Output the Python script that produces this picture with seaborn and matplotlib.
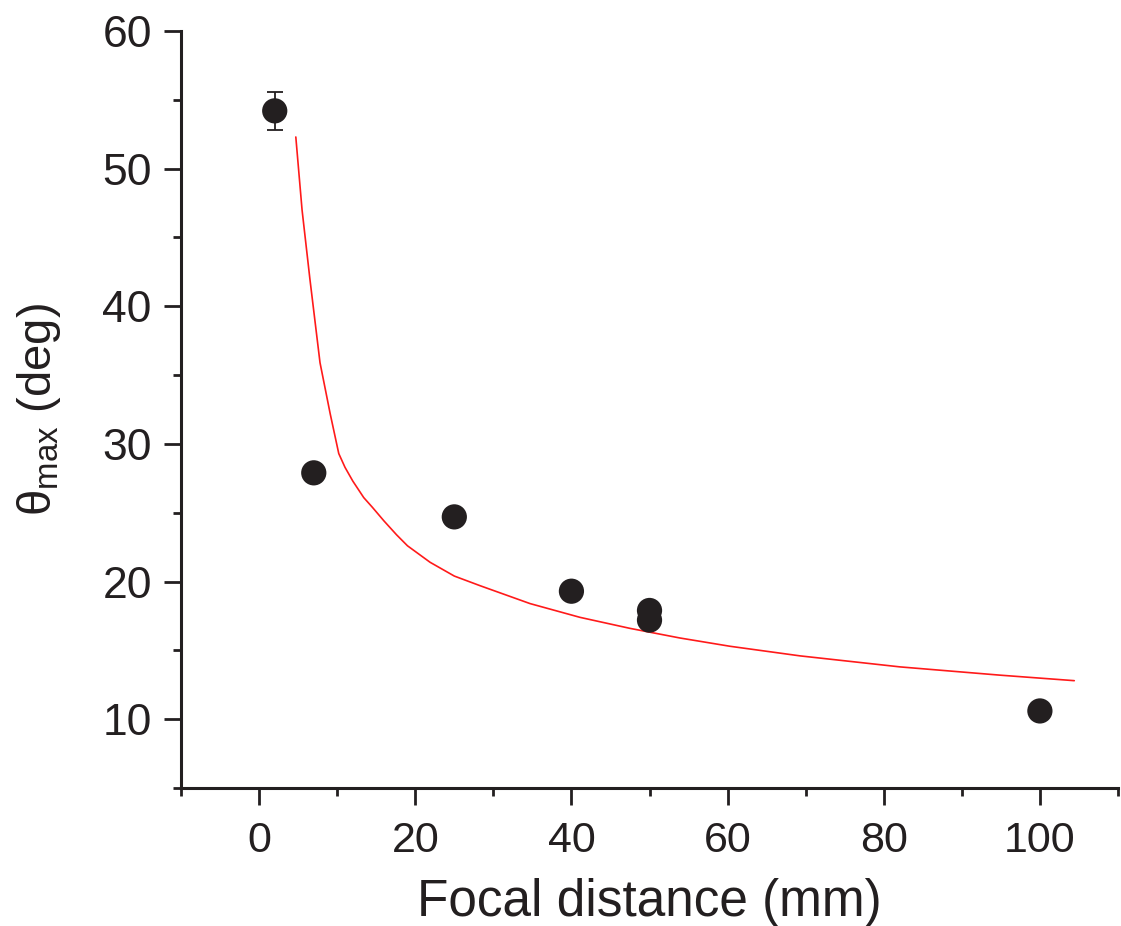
import numpy as np
import pandas as pd
import seaborn as sns
import matplotlib.pyplot as plt
from matplotlib.ticker import MultipleLocator

# measured points
focal = [2, 7, 25, 40, 50, 50, 100]
theta = [54.2, 27.9, 24.7, 19.3, 17.9, 17.2, 10.6]
err_x = [2]
err_y = [54.2]
err_v = [1.4]

# fitted curve
fit_x = [4.7, 5.5, 6.5, 7.8, 9.1, 10.2, 11.0, 12.0, 13.4, 14.5, 16.0, 17.6, 19.0,
         21.9, 25.0, 28.3, 34.7, 41.1, 47.5, 53.9, 60.3, 69.3, 82.1, 94.9, 104.4]
fit_y = [52.3, 47.0, 42.0, 35.9, 32.2, 29.3, 28.3, 27.3, 26.1, 25.4, 24.4, 23.4, 22.6,
         21.4, 20.4, 19.7, 18.4, 17.4, 16.6, 15.9, 15.3, 14.6, 13.8, 13.2, 12.8]

sns.set_style("ticks")
plt.rcParams['font.family'] = ['Liberation Sans', 'DejaVu Sans']
plt.rcParams['mathtext.fontset'] = 'custom'
plt.rcParams['mathtext.rm'] = 'Liberation Sans'
plt.rcParams['mathtext.it'] = 'Liberation Sans'

fig = plt.figure(figsize=(11.21, 9.26), dpi=100)
ax = fig.add_axes([0.1615, 0.149, 0.8358, 0.8175])

df_pts = pd.DataFrame({"x": focal, "y": theta})
df_fit = pd.DataFrame({"x": fit_x, "y": fit_y})

sns.lineplot(data=df_fit, x="x", y="y", ax=ax, color="#ff1a1a", lw=1.2, sort=False, zorder=2)
ax.errorbar(err_x, err_y, yerr=err_v, fmt="none", ecolor="#231f20", elinewidth=1.3,
            capsize=5.5, capthick=1.3, zorder=3)
sns.scatterplot(data=df_pts, x="x", y="y", ax=ax, color="#231f20", s=330,
                edgecolor="none", zorder=4)

ax.set_xlim(-10, 110)
ax.set_ylim(5, 60)
ax.xaxis.set_major_locator(MultipleLocator(20))
ax.xaxis.set_minor_locator(MultipleLocator(10))
ax.yaxis.set_major_locator(MultipleLocator(10))
ax.yaxis.set_minor_locator(MultipleLocator(5))
ax.set_yticks([10, 20, 30, 40, 50, 60])

sns.despine(ax=ax)
for s in ["left", "bottom"]:
    ax.spines[s].set_linewidth(2.2)
    ax.spines[s].set_color("#231f20")
ax.tick_params(which="major", length=12, width=2, color="#231f20", labelsize=32,
               labelcolor="#231f20", pad=9)
ax.tick_params(which="minor", length=6, width=2, color="#231f20")
ax.tick_params(axis="x", which="major", labelsize=31, pad=12)

ax.set_xlabel("Focal distance (mm)", fontsize=37, color="#231f20", labelpad=12)
ax.set_ylabel(r"$\mathrm{\theta}_{\mathrm{max}}$ (deg)", fontsize=34, color="#231f20", labelpad=28)

fig.savefig("out.png", dpi=100)
